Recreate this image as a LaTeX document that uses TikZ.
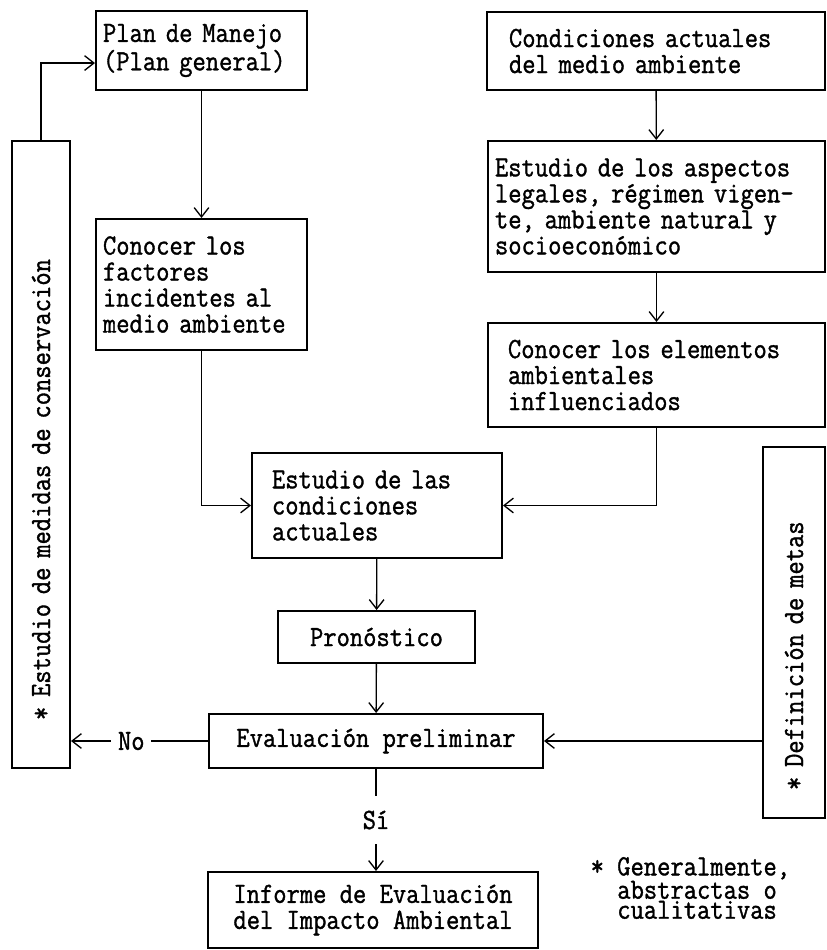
\documentclass[tikz,border=0pt]{standalone}
\usepackage{fontspec}
\usetikzlibrary{arrows.meta}
\newfontfamily\tipo[FakeStretch=0.88, FakeBold=1.2]{Latin Modern Mono}

\begin{document}
\begin{tikzpicture}[x=0.75pt, y=-0.75pt,
		every node/.style={font=\tipo\fontsize{22pt}{19.5pt}\selectfont},
		caja/.style={draw, line width=1.5pt, inner ysep=2pt},
		flecha/.style={draw, line width=1pt, -{Straight Barb[length=7pt, width=11pt]}},
		linea/.style={draw, line width=1pt}]
			\useasboundingbox (0,0) rectangle (827,950);

			\draw (201.5,50.5) node[caja, align=left, inner xsep=5.25pt, text width=147.75pt, minimum height=59.25pt] (plan) {Plan de Manejo\\(Plan general)};
			\draw (201.5,284.5) node[caja, align=left, inner xsep=5.25pt, text width=147.75pt, minimum height=98.25pt] (factores) {Conocer los\\factores\\incidentes al\\medio ambiente};
			\draw (656,51) node[caja, align=left, inner xsep=16.5pt, text width=220.5pt, minimum height=58.5pt] (condiciones) {Condiciones actuales\\del medio ambiente};
			\draw (656.5,206.5) node[caja, align=left, inner xsep=5.25pt, text width=242.25pt, minimum height=98.25pt] (aspectos) {Estudio de los aspectos\\legales, régimen vigen-\\te, ambiente natural y\\socioeconómico};
			\draw (656.5,375) node[caja, align=left, inner xsep=15pt, text width=222.75pt, minimum height=78pt] (elementos) {Conocer los elementos\\ambientales\\influenciados};
			\draw (377,505.5) node[caja, align=left, inner xsep=15pt, text width=157.5pt, minimum height=78.75pt] (estcond) {Estudio de las\\condiciones\\actuales};
			\draw (376.5,637) node[caja, minimum width=147.75pt, minimum height=39pt] (pronostico) {Pronóstico};
			\draw (376,741) node[caja, minimum width=250.5pt, minimum height=40.5pt] (evaluacion) {Evaluación preliminar};
			\draw (373,910) node[caja, align=left, minimum width=247.5pt, minimum height=57pt] (informe) {Informe de Evaluación\\del Impacto Ambiental};
			\draw (41,454.5) node[caja, rotate=90, align=left, inner xsep=36pt, text width=398.25pt, minimum height=43.5pt] (medidas) {* Estudio de medidas de conservación};
			\draw (794,632.5) node[caja, rotate=90, align=left, inner xsep=21pt, text width=236.25pt, minimum height=46.5pt] (metas) {* Definición de metas};
			\draw (586,888) node[anchor=west, align=left, font=\tipo\fontsize{22pt}{15pt}\selectfont] (nota) {*~Generalmente,\\\hphantom{*~}abstractas o\\\hphantom{*~}cualitativas};

			\path[flecha]
			(plan) edge (factores)
			(condiciones) edge (aspectos)
			(aspectos) edge (elementos)
			(estcond) edge (pronostico)
			(pronostico) edge (evaluacion)
			;
			\draw[flecha] (medidas.east) |- ([yshift=-9.4pt]plan.west);
			\draw[flecha] (factores.south) |- (estcond.west);
			\draw[flecha] (elementos.south) |- (estcond.east);
			\draw[flecha] (evaluacion.east -| metas.north) -- (evaluacion.east);
			\draw[flecha] (evaluacion.west) -- node[pos=0.56, fill=white, inner xsep=5pt] (no) {No} (evaluacion.west -| medidas.south);
			\draw[flecha] (evaluacion.south) -- node[fill=white, inner ysep=11pt] (si) {Sí} (evaluacion.south |- informe.north);
		\end{tikzpicture}
\end{document}
